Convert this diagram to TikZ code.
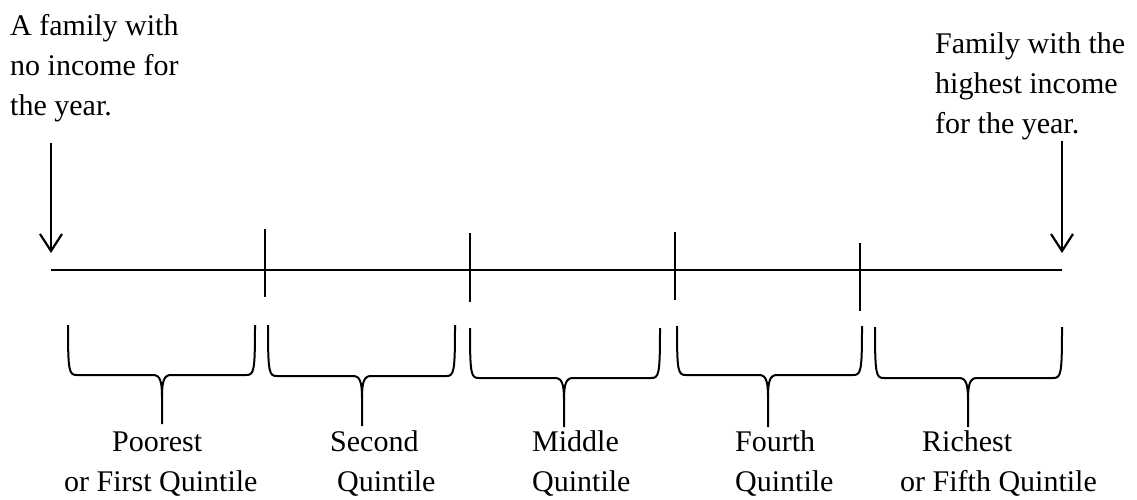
\documentclass[tikz,border=0pt]{standalone}
\usepackage{fontspec}
\setmainfont{Liberation Serif}
\usetikzlibrary{arrows.meta}

% quintile brace: left x, right x, tip x, top y, flat y, tip bottom y
\newcommand\qbrace[6]{%
  \draw[bracestyle]
    (#1,#4) .. controls (#1,#5-3) and (#1+1,#5) .. (#1+9,#5)
    -- (#3-9,#5) .. controls (#3-2,#5) and (#3,#5+6) .. (#3,#5+22)
    -- (#3,#6);
  \draw[bracestyle]
    (#3,#5+22) .. controls (#3,#5+6) and (#3+2,#5) .. (#3+9,#5)
    -- (#2-9,#5) .. controls (#2+1-2,#5) and (#2,#5-3) .. (#2,#4);
}

\begin{document}
\begin{tikzpicture}[x=1pt,y=-1pt,
    axis/.style={line width=2.4pt},
    tick/.style={line width=2.2pt},
    bracestyle/.style={line width=2pt, line join=round},
    pointer/.style={line width=2.2pt, -{Straight Barb[length=17pt,width=22pt]}},
    txt/.style={inner sep=0pt, align=left, font=\fontsize{30}{40}\selectfont},
  ]
  \useasboundingbox (0,0) rectangle (1137,499);

  % captions for the two ends of the income scale (anchored at the last baseline)
  \node[txt, anchor=base west] (low)  at (10,115) {A family with\\no income for\\the year.};
  \node[txt, anchor=base west] (high) at (935,133) {Family with the\\highest income\\for the year.};

  % income scale
  \coordinate (zero) at (51,270);
  \coordinate (top)  at (1062,270);
  \draw[axis] (zero) -- (top);

  % pointers to both ends
  \coordinate (lowstart)  at (51,143);
  \coordinate (highstart) at (1062,141);
  \draw[pointer] (lowstart)  -- (51,253);
  \draw[pointer] (highstart) -- (1062,253);

  % quintile boundaries
  \draw[tick] (265,229) -- (265,297);
  \draw[tick] (470,233) -- (470,302);
  \draw[tick] (675,232) -- (675,300);
  \draw[tick] (860,243) -- (860,311);

  % braces under each fifth
  \qbrace{68}{255}{162}{325}{375}{424}
  \qbrace{268}{455}{362}{325}{376}{426}
  \qbrace{470}{660}{564}{328}{378}{427}
  \qbrace{677}{862}{768}{326}{375}{427}
  \qbrace{875}{1062}{968}{327}{378}{427}

  % quintile names (anchored at the second baseline)
  \node[txt, anchor=base west] (q1) at (64,491)  {\hspace*{48pt}Poorest\\or First Quintile};
  \node[txt, anchor=base west] (q2) at (330,491) {Second\\\hspace*{7pt}Quintile};
  \node[txt, anchor=base west] (q3) at (532,491) {Middle\\Quintile};
  \node[txt, anchor=base west] (q4) at (735,491) {Fourth\\Quintile};
  \node[txt, anchor=base west] (q5) at (900,491) {\hspace*{22pt}Richest\\or Fifth Quintile};
\end{tikzpicture}
\end{document}
